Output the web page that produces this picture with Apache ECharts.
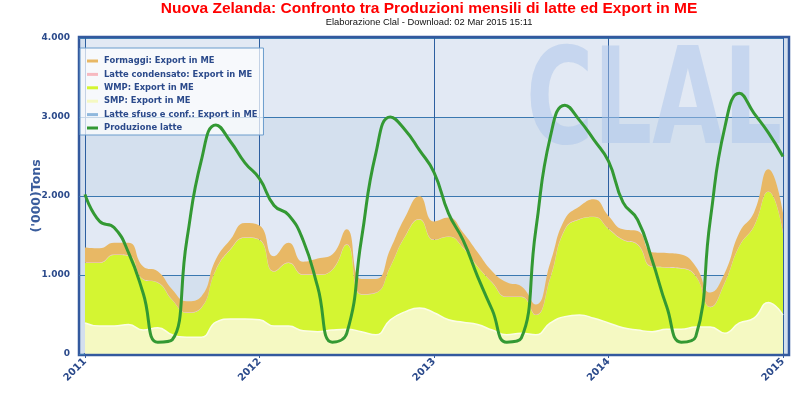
<!DOCTYPE html>
<html>
<head>
<meta charset="utf-8">
<script src="https://cdn.jsdelivr.net/npm/echarts@6/dist/echarts.min.js"></script>
<style>html,body{margin:0;padding:0;background:#fff;}#c{width:800px;height:395px;}</style>
</head>
<body>
<div id="c"></div>
<script>
var categories = [
 '2011-01','2011-02','2011-03','2011-04','2011-05','2011-06','2011-07','2011-08','2011-09','2011-10','2011-11','2011-12',
 '2012-01','2012-02','2012-03','2012-04','2012-05','2012-06','2012-07','2012-08','2012-09','2012-10','2012-11','2012-12',
 '2013-01','2013-02','2013-03','2013-04','2013-05','2013-06','2013-07','2013-08','2013-09','2013-10','2013-11','2013-12',
 '2014-01','2014-02','2014-03','2014-04','2014-05','2014-06','2014-07','2014-08','2014-09','2014-10','2014-11','2014-12',
 '2015-01'];

var formaggi = [190,180,150,160,160,140,130,140,140,130,120,180,
                180,190,250,160,200,190,190,190,170,220,240,290,
                230,240,190,180,140,180,130,130,190,130,160,220,
                160,130,170,180,180,170,120,180,120,170,170,280,
                250];
var latteCondensato = [5,5,5,5,5,5,5,5,5,5,5,5,
                       5,5,5,5,5,5,5,5,5,5,5,5,
                       5,5,5,5,5,5,5,5,5,5,5,5,
                       5,5,5,5,5,5,5,5,5,5,5,5,
                       5];
var wmp = [760,800,900,870,640,570,440,310,370,660,880,1030,
           1010,690,800,710,720,760,1070,470,530,670,950,1120,
           920,1050,940,730,600,480,460,250,570,1100,1210,1280,
           1190,1110,1080,820,780,770,640,250,640,970,1160,1400,
           1040];
var smp = [390,350,350,370,300,330,240,210,210,400,440,440,
           430,350,350,290,280,300,310,280,240,430,530,580,
           520,430,400,370,300,240,260,240,390,470,490,450,
           390,330,300,280,310,310,340,340,260,390,450,650,
           490];
var latteSfuso = [3,3,3,3,3,3,3,3,3,3,3,3,
                  3,3,3,3,3,3,3,3,3,3,3,3,
                  3,3,3,3,3,3,3,3,3,3,3,3,
                  3,3,3,3,3,3,3,3,3,3,3,3,
                  3];
var produzione = [2020,1680,1600,1280,770,150,180,1440,2450,2900,2690,2420,
                  2220,1880,1760,1440,850,150,260,1440,2540,3000,2840,2580,
                  2300,1780,1440,980,560,150,200,1570,2750,3150,2960,2710,
                  2440,1920,1700,1190,600,150,220,1700,2870,3300,3050,2800,
                  2500];
var yTicks = [0,1000,2000,3000,4000];

var navy = '#2b4a8b';
var chart = echarts.init(document.getElementById('c'), null, {renderer:'canvas'});

function area(name, data, color, lineColor, lw) {
  return {
    name: name, type: 'line', stack: 'exp', data: data, smooth: true,
    symbol: 'none', z: 2,
    itemStyle: {color: color},
    lineStyle: {color: lineColor, width: lw},
    areaStyle: {color: color, opacity: 1}
  };
}

chart.setOption({
  animation: false,
  backgroundColor: '#ffffff',
  title: [{
    text: 'Nuova Zelanda: Confronto tra Produzioni mensili di latte ed Export in ME',
    left: 429, top: 1, textAlign: 'center', padding: 0,
    textStyle: {color: '#ff0000', fontWeight: 'bold', fontSize: 15.5, fontFamily: 'Liberation Sans'}
  }, {
    text: 'Elaborazione Clal - Download: 02 Mar 2015 15:11',
    left: 429, top: 18, textAlign: 'center', padding: 0,
    textStyle: {color: '#111', fontWeight: 'normal', fontSize: 9.4, fontFamily: 'Liberation Sans'}
  }],
  graphic: [{
    type: 'rect', z: -10, silent: true,
    shape: {x: 79, y: 37, width: 710, height: 318},
    style: {fill: '#d3dfee', stroke: '#33599e', lineWidth: 2.5}
  }, {
    type: 'text', z: 1, silent: true, x: 526, y: 42, scaleX: 0.635, scaleY: 0.92,
    style: {x: 0, y: 0, text: 'CLAL', font: 'bold 145px "DejaVu Sans"', fill: 'rgba(170,196,234,0.5)'}
  }],
  legend: {
    orient: 'vertical', left: 80, top: 48,
    backgroundColor: 'rgba(255,255,255,0.72)', borderColor: '#6a9ccc', borderWidth: 1,
    padding: [9, 6, 3, 7], itemGap: 5.4, itemWidth: 11, itemHeight: 3, icon: 'rect',
    data: ['Formaggi: Export in ME','Latte condensato: Export in ME','WMP: Export in ME','SMP: Export in ME','Latte sfuso e conf.: Export in ME','Produzione latte'],
    textStyle: {color: navy, fontSize: 8.4, fontWeight: 'bold', fontFamily: 'DejaVu Sans', padding: [0,0,0,1]}
  },
  grid: {left: 85, right: 17, top: 38, bottom: 41, containLabel: false},
  xAxis: {
    type: 'category', data: categories, boundaryGap: false,
    axisLine: {show: true, lineStyle: {color: '#33599e', width: 3}},
    axisTick: {show: true, length: 4, interval: function(i){return i % 12 === 0;}, lineStyle: {color: '#33599e', width: 1}},
    axisLabel: {
      interval: function(i){return i % 12 === 0;}, rotate: 45, margin: 6,
      formatter: function(v){return v.slice(0,4);},
      color: navy, fontWeight: 'bold', fontSize: 10, fontFamily: 'DejaVu Sans'
    },
    splitLine: {show: true, interval: function(i){return i % 12 === 0;}, lineStyle: {color: '#2d5fa0', width: 1}}
  },
  yAxis: {
    type: 'value', min: yTicks[0], max: yTicks[yTicks.length-1], interval: 1000,
    name: "('000)Tons", nameLocation: 'middle', nameGap: 42, nameRotate: 90, nameMoveOverlap: false,
    nameTextStyle: {color: '#3a5c9c', fontWeight: 'bold', fontSize: 12.5, fontFamily: 'DejaVu Sans'},
    axisLine: {show: false},
    axisTick: {show: true, length: 6, lineStyle: {color: '#3a78b0'}},
    axisLabel: {
      margin: 15, color: navy, fontWeight: 'bold', fontSize: 9, fontFamily: 'DejaVu Sans',
      formatter: function(v){return v === 0 ? '0' : (v/1000) + '.000';}
    },
    splitLine: {show: true, lineStyle: {color: '#3a78b0', width: 1}},
    splitArea: {show: true, areaStyle: {color: ['#d4e0ee', '#e2e9f4']}}
  },
  series: [
    area('Latte sfuso e conf.: Export in ME', latteSfuso, '#8fb8dd', '#8fb8dd', 0),
    area('SMP: Export in ME', smp, '#f5f9c2', '#fbfde6', 1.5),
    area('WMP: Export in ME', wmp, '#d4f532', '#d4f532', 0),
    area('Latte condensato: Export in ME', latteCondensato, '#f7b9c0', '#f7b9c0', 0),
    area('Formaggi: Export in ME', formaggi, '#e8b865', '#e8b865', 0),
    {
      name: 'Produzione latte', type: 'line', data: produzione, smooth: true, symbol: 'none', z: 5,
      itemStyle: {color: '#339933'},
      lineStyle: {color: '#339933', width: 3}
    }
  ]
});
</script>
</body>
</html>
